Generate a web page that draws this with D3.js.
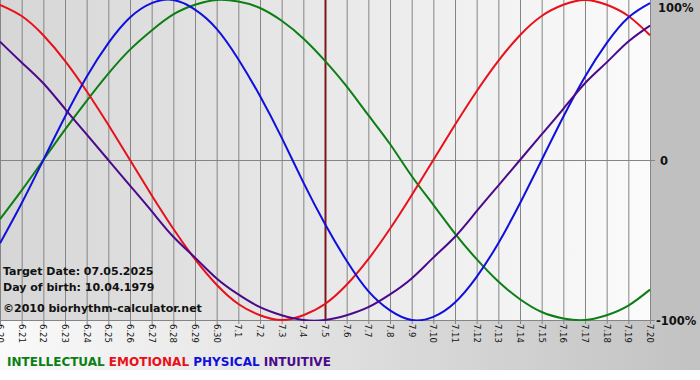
<!DOCTYPE html>
<html><head><meta charset="utf-8">
<script src="https://cdn.jsdelivr.net/npm/d3@7"></script>
<style>
html,body{margin:0;padding:0;background:#fff;}
svg{display:block;font-family:"DejaVu Sans",Verdana,sans-serif;}
</style></head>
<body>
<svg id="chart" width="700" height="380"></svg>
<script>
const dates = ["6.20","6.21","6.22","6.23","6.24","6.25","6.26","6.27","6.28","6.29","6.30",
  "7.1","7.2","7.3","7.4","7.5","7.6","7.7","7.8","7.9","7.10","7.11","7.12","7.13","7.14",
  "7.15","7.16","7.17","7.18","7.19","7.20"];
const intellectual = [-0.37,-0.19,0.00,0.19,0.37,0.54,0.69,0.81,0.91,0.97,1.00,0.99,0.95,0.87,0.76,0.62,
  0.46,0.28,0.10,-0.10,-0.28,-0.46,-0.62,-0.76,-0.87,-0.95,-0.99,-1.00,-0.97,-0.91,-0.81];
const emotional = [0.97,0.90,0.78,0.62,0.43,0.22,0.00,-0.22,-0.43,-0.62,-0.78,-0.90,-0.97,-1.00,-0.97,-0.90,
  -0.78,-0.62,-0.43,-0.22,0.00,0.22,0.43,0.62,0.78,0.90,0.97,1.00,0.97,0.90,0.78];
const physical = [-0.52,-0.27,0.00,0.27,0.52,0.73,0.89,0.98,1.00,0.94,0.82,0.63,0.40,0.14,-0.14,-0.40,
  -0.63,-0.82,-0.94,-1.00,-0.98,-0.89,-0.73,-0.52,-0.27,0.00,0.27,0.52,0.73,0.89,0.98];
const intuitive = [0.74,0.61,0.48,0.32,0.16,0.00,-0.16,-0.32,-0.48,-0.61,-0.74,-0.84,-0.92,-0.97,-1.00,-1.00,
  -0.97,-0.92,-0.84,-0.74,-0.61,-0.48,-0.32,-0.16,0.00,0.16,0.32,0.48,0.61,0.74,0.84];
const seriesNames = ["INTELLECTUAL","EMOTIONAL","PHYSICAL","INTUITIVE"];
const seriesColors = ["#0b7f14","#e8101a","#1010dd","#4a0a8a"];
const yTickValues = [1, 0, -1];
const yTickLabels = ["100%", "0", "-100%"];
const targetDate = "7.5";
const infoLines = ["Target Date: 07.05.2025", "Day of birth: 10.04.1979"];
const copyright = "\u00A92010 biorhythm-calculator.net";

const svg = d3.select("#chart");
const W = 650, H = 320;
const x = d3.scalePoint().domain(dates).range([0, W]);
const y = d3.scaleLinear().domain([-1, 1]).range([H, 0]);

const defs = svg.append("defs");
const g1 = defs.append("linearGradient").attr("id","plotbg").attr("x1","0").attr("x2","1").attr("y1","0").attr("y2","0");
g1.append("stop").attr("offset","0").attr("stop-color","#d6d6d6");
g1.append("stop").attr("offset","1").attr("stop-color","#fbfbfb");
const g2 = defs.append("linearGradient").attr("id","botbg").attr("x1","0").attr("x2","1").attr("y1","0").attr("y2","0");
g2.append("stop").attr("offset","0").attr("stop-color","#fafafa");
g2.append("stop").attr("offset","1").attr("stop-color","#c2c2c2");
defs.append("clipPath").attr("id","clip").append("rect").attr("x",0).attr("y",-1).attr("width",W+1).attr("height",H+2);

// backgrounds
svg.append("rect").attr("x",0).attr("y",H).attr("width",700).attr("height",50).attr("fill","url(#botbg)");
svg.append("rect").attr("x",W).attr("y",0).attr("width",700-W).attr("height",H).attr("fill","#c0c0c0");
svg.append("rect").attr("x",0).attr("y",0).attr("width",W).attr("height",H).attr("fill","url(#plotbg)");

// vertical grid lines
svg.append("g").selectAll("line").data(dates).join("line")
  .attr("x1", d => x(d) + 0.5).attr("x2", d => x(d) + 0.5)
  .attr("y1", 0).attr("y2", H + 4)
  .attr("stroke", "#858585").attr("stroke-width", 1);

// horizontal lines (zero + bottom)
svg.append("g").selectAll("line").data([0, -1]).join("line")
  .attr("x1", 0).attr("x2", W + 5)
  .attr("y1", d => Math.round(y(d)) + 0.5).attr("y2", d => Math.round(y(d)) + 0.5)
  .attr("stroke", "#858585").attr("stroke-width", 1);

// target line
svg.append("line").attr("x1", x(targetDate)+0.5).attr("x2", x(targetDate)+0.5)
  .attr("y1", 0).attr("y2", H).attr("stroke", "#7a1a1a").attr("stroke-width", 2);

// curves
const allSeries = [intellectual, emotional, physical, intuitive];
const line = d3.line().x((d, i) => x(dates[i])).y(d => y(d)).curve(d3.curveNatural);
svg.append("g").attr("clip-path","url(#clip)").selectAll("path").data(allSeries).join("path")
  .attr("d", d => line(d)).attr("fill","none")
  .attr("stroke", (d, i) => seriesColors[i]).attr("stroke-width", 2);

// x labels
svg.append("g").selectAll("text").data(dates).join("text")
  .attr("transform", d => `translate(${x(d)},${H + 4}) rotate(90)`)
  .attr("dy", "0.35em").attr("text-anchor","start")
  .attr("font-size", "8.5px").attr("fill", "#111").text(d => d);

// y labels
svg.append("g").selectAll("text").data(yTickValues).join("text")
  .attr("x", (d, i) => i === 2 ? 656 : (i === 1 ? 660 : 658))
  .attr("y", d => Math.max(7, y(d))).attr("dy", "0.4em")
  .attr("font-size", "11.5px").attr("font-weight", "bold").attr("fill", "#111")
  .text((d, i) => yTickLabels[i]);

// info text
svg.append("g").selectAll("text").data(infoLines).join("text")
  .attr("x", 3).attr("y", (d, i) => 275 + i * 16)
  .attr("font-size", "11px").attr("font-weight", "bold").attr("fill", "#111").text(d => d);
svg.append("text").attr("x", 3).attr("y", 312)
  .attr("font-size", "11px").attr("font-weight", "bold").attr("fill", "#111").text(copyright);

// legend
const leg = svg.append("text").attr("x", 7).attr("y", 366)
  .attr("font-size", "12px").attr("font-weight", "bold");
seriesNames.forEach((n, i) => {
  leg.append("tspan").attr("fill", seriesColors[i]).text((i ? " " : "") + n);
});
</script>
</body></html>
